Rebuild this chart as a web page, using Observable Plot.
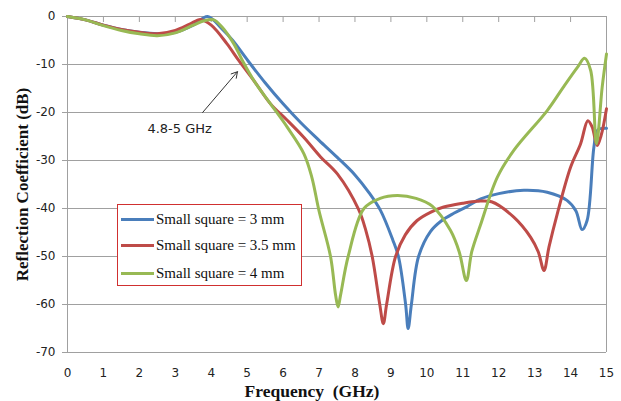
<!DOCTYPE html>
<html>
<head>
<meta charset="utf-8">
<script src="https://cdn.jsdelivr.net/npm/d3@7"></script>
<script src="https://cdn.jsdelivr.net/npm/@observablehq/plot@0.6"></script>
<style>
  body { margin: 0; background: #fff; }
  #wrap { position: relative; width: 621px; height: 401px; overflow: hidden; }
  #legend { position: absolute; left: 117px; top: 204px; width: 185px; height: 82px;
    border: 1px solid #d03030; background: #fff; box-sizing: border-box;
    font-family: "Liberation Serif", "Times New Roman", serif; font-size: 15px; color: #111; }
  .item { position: absolute; left: 3px; height: 16px; display: flex; align-items: center; }
  .swatch { width: 33px; height: 3px; margin-right: 2px; }
</style>
</head>
<body>
<div id="wrap"><div id="legend"></div></div>
<script>
const seriesNames = ["Small square = 3 mm", "Small square = 3.5 mm", "Small square = 4 mm"];
const seriesColors = ["#4a7ebb", "#be4b48", "#98b954"];

const freq3 = [0, 0.5, 1, 1.5, 2, 2.5, 3, 3.5, 3.9, 4.3, 4.6, 5, 5.5, 6, 6.5, 7, 7.5, 8, 8.4, 8.71, 9.05, 9.21, 9.41, 9.48, 9.57, 9.77, 10.1, 10.4, 10.75, 11.12, 11.5, 12, 12.7, 13.35, 13.9, 14.15, 14.32, 14.46, 14.65, 14.75, 15];
const refl3 = [0, -0.7, -1.8, -2.7, -3.3, -3.6, -3.3, -1.8, 0, -2.6, -5, -9.0, -13.8, -18.2, -22.2, -25.8, -29.3, -33, -36.8, -40.4, -46.5, -50, -60, -65, -60, -50, -44.8, -42.6, -41, -39.6, -38, -36.9, -36.2, -36.6, -38.3, -40.5, -44.4, -42.5, -27.2, -23.7, -23.3];

const freq35 = [0, 0.5, 1, 1.5, 2, 2.5, 3, 3.4, 3.7, 4.0, 4.44, 4.77, 5.2, 5.65, 6.1, 6.58, 7.05, 7.51, 8.1, 8.3, 8.48, 8.69, 8.79, 8.88, 9.13, 9.4, 9.73, 10.1, 10.47, 11, 11.4, 11.8, 12.42, 12.89, 13.1, 13.26, 13.4, 13.63, 14.0, 14.28, 14.48, 14.6, 14.74, 14.85, 15];
const refl35 = [0, -0.7, -1.8, -2.7, -3.3, -3.6, -2.9, -1.6, -0.6, -1.8, -5.7, -9.2, -13.5, -18.2, -21.5, -25.2, -29.3, -32.8, -40.2, -44.5, -50, -60, -64, -60, -50, -45.5, -42.5, -40.8, -39.7, -38.9, -38.5, -38.6, -41.8, -46, -49, -52.9, -48, -41.1, -31.4, -26.5, -21.7, -23, -26.9, -24.8, -19.2];

const freq4 = [0, 0.5, 1, 1.5, 2, 2.5, 3, 3.5, 3.8, 4.07, 4.3, 4.63, 4.87, 5.2, 5.65, 6.11, 6.58, 6.8, 7.0, 7.32, 7.46, 7.53, 7.6, 7.81, 8.25, 8.7, 9.18, 9.7, 10.15, 10.66, 10.9, 11.1, 11.25, 11.49, 11.96, 12.42, 13.35, 13.8, 14.19, 14.39, 14.56, 14.72, 14.88, 15];
const refl4 = [0, -0.7, -1.9, -2.9, -3.6, -4.0, -3.4, -1.8, -0.9, -0.7, -2.2, -5.7, -9.2, -13.5, -18.2, -23, -28.6, -33.5, -40.5, -50, -58, -60.5, -58, -50, -40, -37.9, -37.3, -37.9, -39.5, -44.6, -49, -55, -49, -43.5, -33.5, -27.9, -19.6, -14.7, -10.6, -8.7, -11.25, -26.5, -14.7, -7.8];

const xTicks = d3.range(0, 16);
const yTicks = [0, -10, -20, -30, -40, -50, -60, -70];
const annotation = {text: "4.8-5 GHz", x: 3.12, y: -23.3, ax1: 3.76, ay1: -20, ax2: 4.73, ay2: -11.5};

const data = [];
[[freq3, refl3], [freq35, refl35], [freq4, refl4]].forEach(([fx, fy], i) => {
  fx.forEach((f, j) => data.push({freq: f, refl: fy[j], series: seriesNames[i]}));
});

const gridColor = "#a0a0a0";
const serif = "Liberation Serif, Times New Roman, serif";

const chart = Plot.plot({
  width: 621,
  height: 401,
  marginTop: 16,
  marginBottom: 49,
  marginLeft: 67,
  marginRight: 15,
  style: {fontFamily: "DejaVu Sans, Verdana, sans-serif", fontSize: "12px", color: "#222", background: "#fff"},
  x: {domain: [0, 15], ticks: xTicks},
  y: {domain: [-70, 0], ticks: yTicks},
  color: {domain: seriesNames, range: seriesColors},
  marks: [
    Plot.ruleY(yTicks, {stroke: gridColor, strokeWidth: 1}),
    Plot.ruleX([0, 15], {stroke: gridColor, strokeWidth: 1}),
    Plot.ruleX(xTicks.slice(1, -1), {x: d => d, y1: 0, y2: -1.25, stroke: gridColor}),
    Plot.axisX({anchor: "bottom", ticks: xTicks, tickSize: 0, tickPadding: 16, label: null, fontSize: 12}),
    Plot.axisY({ticks: yTicks, tickSize: 5, tickPadding: 7, stroke: gridColor, label: null, tickFormat: d => String(d), fontSize: 12}),
    Plot.line(data, {x: "freq", y: "refl", z: "series", stroke: "series", strokeWidth: 3, curve: "catmull-rom"}),
    Plot.arrow([annotation], {x1: "ax1", y1: "ay1", x2: "ax2", y2: "ay2", stroke: "#333", strokeWidth: 1, headLength: 10}),
    Plot.text([annotation], {x: "x", y: "y", text: "text", fontSize: 13, fill: "#222"}),
    Plot.text(["Reflection Coefficient (dB)"], {frameAnchor: "left", textAnchor: "middle", dx: -45, rotate: -90, fontSize: 17, fontWeight: "bold", fontFamily: serif, fill: "#111"}),
    Plot.text(["Frequency  (GHz)"], {frameAnchor: "bottom", dx: -25, dy: 44, fontSize: 17.5, fontWeight: "bold", fontFamily: serif, fill: "#111"})
  ]
});
document.getElementById("wrap").prepend(chart);

const legend = document.getElementById("legend");
const tops = [6, 32, 60];
seriesNames.forEach((name, i) => {
  const item = document.createElement("div");
  item.className = "item";
  item.style.top = tops[i] + "px";
  const sw = document.createElement("div");
  sw.className = "swatch";
  sw.style.background = seriesColors[i];
  const label = document.createElement("span");
  label.textContent = name;
  item.append(sw, label);
  legend.append(item);
});
</script>
</body>
</html>
